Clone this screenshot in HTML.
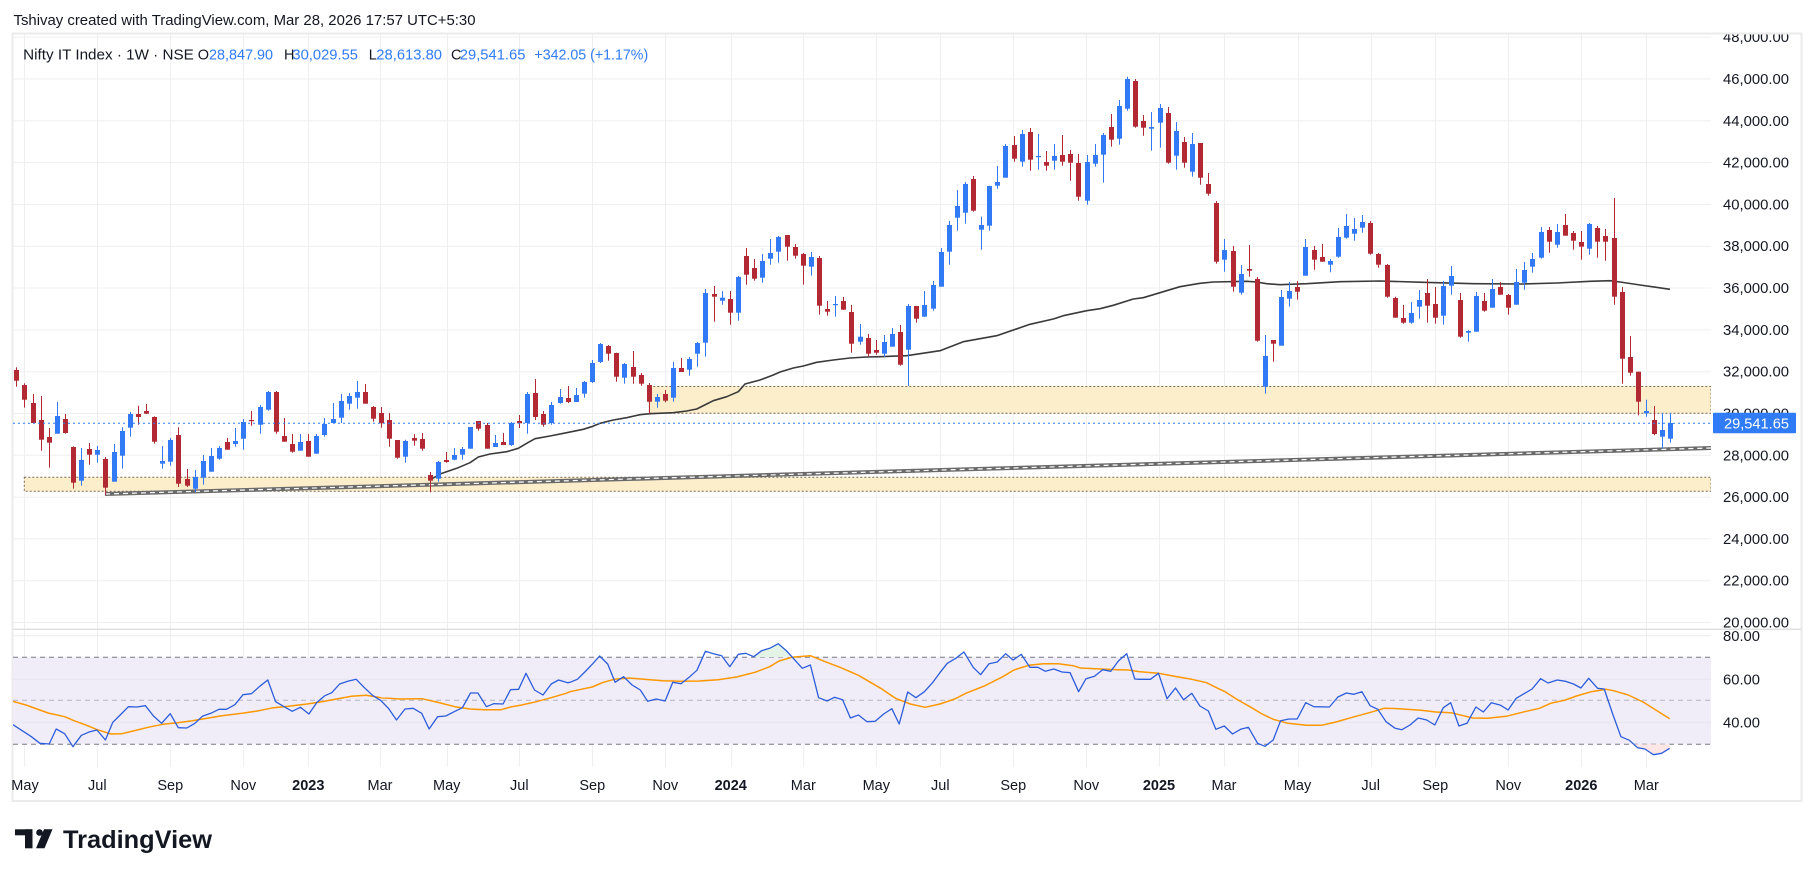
<!DOCTYPE html>
<html><head><meta charset="utf-8"><style>
html,body{margin:0;padding:0;background:#fff;}
svg{display:block;font-family:"Liberation Sans",sans-serif;}
</style></head><body>
<svg id="s" width="1815" height="877" viewBox="0 0 1815 877" xmlns="http://www.w3.org/2000/svg">
<rect width="1815" height="877" fill="#fff"/>
<text x="13.5" y="25" font-size="15" fill="#131722" textLength="462" lengthAdjust="spacingAndGlyphs">Tshivay created with TradingView.com, Mar 28, 2026 17:57 UTC+5:30</text>
<rect x="12.5" y="33.5" width="1789" height="767.5" fill="none" stroke="#ebebeb" stroke-width="2"/>
<defs>
<clipPath id="cp"><rect x="13" y="34.5" width="1698" height="594"/></clipPath>
<clipPath id="cr"><rect x="13" y="630" width="1698" height="137"/></clipPath>
<clipPath id="ax1"><rect x="1712" y="34.5" width="89" height="594"/></clipPath>
<clipPath id="ax2"><rect x="1712" y="630" width="89" height="137"/></clipPath>
</defs>
<g id="grid" stroke="#efefef" stroke-width="1"></g>
<g clip-path="url(#cp)">
<rect x="24.3" y="477.3" width="1686.7" height="14" fill="#fdeecb" stroke="#7a6a50" stroke-width="1" stroke-dasharray="2,2"/>
<rect x="649.3" y="386.5" width="1061.7" height="26.8" fill="#fdeecb" stroke="#7a6a50" stroke-width="1" stroke-dasharray="2,2"/>
<polyline id="ma" fill="none" stroke="#3a3a3a" stroke-width="1.6" stroke-linejoin="round"/>
<line x1="372" y1="486.5" x2="673" y2="477.6" stroke="#555" stroke-width="1.4" opacity="0.7"/>
<line x1="105" y1="494" x2="1711" y2="448" stroke="#6a6a6a" stroke-width="4"/>
<line x1="105" y1="494" x2="1711" y2="448" stroke="#fff" stroke-width="1.2" stroke-dasharray="5,4"/>
<g id="candles"></g>
<line x1="13" y1="423.3" x2="1711" y2="423.3" stroke="#2f7cf6" stroke-width="1" stroke-dasharray="2,3"/>
</g>
<g clip-path="url(#ax1)" font-size="14.5" fill="#131722">
<text x="1723" y="42.2" textLength="66" lengthAdjust="spacingAndGlyphs">48,000.00</text>
<text x="1723" y="84" textLength="66" lengthAdjust="spacingAndGlyphs">46,000.00</text>
<text x="1723" y="125.8" textLength="66" lengthAdjust="spacingAndGlyphs">44,000.00</text>
<text x="1723" y="167.6" textLength="66" lengthAdjust="spacingAndGlyphs">42,000.00</text>
<text x="1723" y="209.4" textLength="66" lengthAdjust="spacingAndGlyphs">40,000.00</text>
<text x="1723" y="251.2" textLength="66" lengthAdjust="spacingAndGlyphs">38,000.00</text>
<text x="1723" y="293" textLength="66" lengthAdjust="spacingAndGlyphs">36,000.00</text>
<text x="1723" y="334.9" textLength="66" lengthAdjust="spacingAndGlyphs">34,000.00</text>
<text x="1723" y="376.7" textLength="66" lengthAdjust="spacingAndGlyphs">32,000.00</text>
<text x="1723" y="418.5" textLength="66" lengthAdjust="spacingAndGlyphs">30,000.00</text>
<text x="1723" y="460.3" textLength="66" lengthAdjust="spacingAndGlyphs">28,000.00</text>
<text x="1723" y="502.1" textLength="66" lengthAdjust="spacingAndGlyphs">26,000.00</text>
<text x="1723" y="543.9" textLength="66" lengthAdjust="spacingAndGlyphs">24,000.00</text>
<text x="1723" y="585.7" textLength="66" lengthAdjust="spacingAndGlyphs">22,000.00</text>
<text x="1723" y="627.5" textLength="66" lengthAdjust="spacingAndGlyphs">20,000.00</text>
<rect x="1713" y="412.7" width="83" height="20.6" rx="1" fill="#2f7cf6"/>
<text x="1724" y="428.6" fill="#fff" textLength="65" lengthAdjust="spacingAndGlyphs">29,541.65</text>
</g>
<line x1="13" y1="629.3" x2="1801" y2="629.3" stroke="#e0e0e0" stroke-width="1.5"/>
<g clip-path="url(#cr)">
<rect x="13" y="657.3" width="1698" height="87" fill="#f0edf9"/>
<line x1="13" y1="635.7" x2="1711" y2="635.7" stroke="#ececec"/>
<line x1="13" y1="679.3" x2="1711" y2="679.3" stroke="#e6e3ef"/>
<line x1="13" y1="722.3" x2="1711" y2="722.3" stroke="#e6e3ef"/>
<line x1="13" y1="657.3" x2="1711" y2="657.3" stroke="#787b86" stroke-dasharray="5,4"/>
<line x1="13" y1="700.3" x2="1711" y2="700.3" stroke="#b2b5be" stroke-dasharray="5,4"/>
<line x1="13" y1="744.3" x2="1711" y2="744.3" stroke="#787b86" stroke-dasharray="5,4"/>
<polygon id="gfill" fill="#e3f3e6"/>
<polygon id="rfill" fill="#fde6e6"/>
<polyline id="rsima" fill="none" stroke="#ff9800" stroke-width="1.5" stroke-linejoin="round"/>
<polyline id="rsi" fill="none" stroke="#2c5ddb" stroke-width="1.3" stroke-linejoin="round"/>
</g>
<g clip-path="url(#ax2)" font-size="14.5" fill="#131722">
<text x="1723" y="640.9" textLength="37" lengthAdjust="spacingAndGlyphs">80.00</text>
<text x="1723" y="684.3" textLength="37" lengthAdjust="spacingAndGlyphs">60.00</text>
<text x="1723" y="727.5" textLength="37" lengthAdjust="spacingAndGlyphs">40.00</text>
</g>
<g font-size="14.5" fill="#131722" text-anchor="middle">
<text x="25" y="790">May</text>
<text x="97.3" y="790">Jul</text>
<text x="170.3" y="790">Sep</text>
<text x="243.3" y="790">Nov</text>
<text x="308.3" y="790" font-weight="bold">2023</text>
<text x="380" y="790">Mar</text>
<text x="446.7" y="790">May</text>
<text x="519.3" y="790">Jul</text>
<text x="592.3" y="790">Sep</text>
<text x="665.3" y="790">Nov</text>
<text x="730.7" y="790" font-weight="bold">2024</text>
<text x="803.3" y="790">Mar</text>
<text x="876.3" y="790">May</text>
<text x="940.3" y="790">Jul</text>
<text x="1013.3" y="790">Sep</text>
<text x="1086.3" y="790">Nov</text>
<text x="1159" y="790" font-weight="bold">2025</text>
<text x="1224" y="790">Mar</text>
<text x="1297.5" y="790">May</text>
<text x="1370.7" y="790">Jul</text>
<text x="1435.3" y="790">Sep</text>
<text x="1508.3" y="790">Nov</text>
<text x="1581.3" y="790" font-weight="bold">2026</text>
<text x="1646.3" y="790">Mar</text>
</g>
<g font-size="14.5">
<text x="23.2" y="59.5" fill="#131722" textLength="170.6" lengthAdjust="spacingAndGlyphs">Nifty IT Index · 1W · NSE</text>
<text x="197.8" y="59.5" fill="#131722">O</text>
<text x="209" y="59.5" fill="#2f7cf6" textLength="64" lengthAdjust="spacingAndGlyphs">28,847.90</text>
<text x="284" y="59.5" fill="#131722">H</text>
<text x="292.4" y="59.5" fill="#2f7cf6" textLength="65.6" lengthAdjust="spacingAndGlyphs">30,029.55</text>
<text x="368.8" y="59.5" fill="#131722">L</text>
<text x="376.3" y="59.5" fill="#2f7cf6" textLength="65.7" lengthAdjust="spacingAndGlyphs">28,613.80</text>
<text x="451" y="59.5" fill="#131722">C</text>
<text x="459.8" y="59.5" fill="#2f7cf6" textLength="65.6" lengthAdjust="spacingAndGlyphs">29,541.65</text>
<text x="534.4" y="59.5" fill="#2f7cf6" textLength="113.8" lengthAdjust="spacingAndGlyphs">+342.05 (+1.17%)</text>
</g>
<g fill="#131722">
<rect x="15" y="829.3" width="17" height="6"/>
<rect x="25" y="829.3" width="7.5" height="19"/>
<circle cx="39.5" cy="832.5" r="3.3"/>
<polygon points="36,848.3 44.5,848.3 52.5,829.3 44,829.3"/>
<text x="63" y="848" font-size="25" font-weight="bold" textLength="149" lengthAdjust="spacingAndGlyphs">TradingView</text>
</g>
</svg>
<script>
(function(){
var NS='http://www.w3.org/2000/svg';
function el(t,a,p){var e=document.createElementNS(NS,t);for(var k in a)e.setAttribute(k,a[k]);p.appendChild(e);return e;}
// grid
var grid=document.getElementById('grid');
var hy=[37.2,79,120.8,162.6,204.4,246.2,288,329.9,371.7,413.5,455.3,497.1,538.9,580.7,622.5];
hy.forEach(function(y){el('line',{x1:13,x2:1711,y1:y,y2:y},grid);});
var vx=[24.3,97.3,170.3,243.3,308.3,380,446.7,519.3,592.3,665.3,730.7,803.3,876.3,940.3,1013.3,1086.3,1159,1224,1297.5,1370.7,1435.3,1508.3,1581.3,1646.3];
vx.forEach(function(x){var xx=Math.round(x)+0.5;el('line',{x1:xx,x2:xx,y1:34.5,y2:767},grid);});
// candles
var G=[
[340,"r82,90,122,140 r130,135,179,203 r162,189,249,250 r168,240,299,332 r264,291,308,383 b186,228,281,281 r222,237,279,281 r319,321,428,446 b324,360,422,437 r309,327,344,374 b318,330,344,368 r351,357,443,465 b312,336,425,425 b262,273,347,386 b216,222,263,290 r197,222,231,254 r192,213,221,222 r229,231,305,311 b318,363,371,386 b294,300,365,377 r262,285,431,441 r387,417,437,441 b390,411,446,457 b345,363,413,434 b324,348,395,395 b318,324,356,359 r294,306,329,329 b264,303,312,320 b237,246,296,329 r213,240,242,257 b195,201,254,281 b153,156,209,212 r153,156,275,281 r234,288,305,305 r282,312,335,338 b282,306,332,332 r282,303,350,350 b282,288,341,341 b234,252,285,290 b189,237,249,249 b162,183,233,249 b159,168,191,209 b123,156,173,206 r132,156,191,191 r198,201,236,245 r201,219,250,263 r219,240,296,320 r300,300,353,356 b299,303,350,368 r282,294,302,317 r279,297,326,332 r396,405,422,457 b363,366,416,425 r336,360,366,368"],
[200,"b744,765,779,781 b741,747,764,779 b681,681,746,746 r663,663,686,692 r669,675,746,746 b705,729,741,741 r699,726,735,735 b666,669,735,738 r645,663,670,684 b576,582,669,701 r537,579,651,660 r633,642,674,680 b606,615,669,674 b567,591,609,611 r558,594,606,609 b564,585,606,606 b543,546,581,593 b480,489,546,549 b429,432,486,489 r435,438,461,482 r458,459,530,545 b489,492,533,551 r453,501,530,551 r519,525,551,557 r549,555,605,641 b582,591,605,623 r570,582,602,607 b486,504,593,605 r474,504,516,516 b471,477,509,527 b426,429,461,500 b267,279,428,470 r258,282,290,365 b273,293,302,314 r273,297,338,374 b228,231,338,362 r144,168,224,254 r177,204,236,242 b162,183,233,248 b117,159,176,194 b108,111,155,188 r105,105,140,182 r132,141,167,176 r159,162,197,254 b156,171,200,227 r168,174,317,344 r303,327,335,347 b288,312,315,350 r291,303,329,330 r315,336,431,458 b372,410,425,434 r402,414,461,470 r420,450,458,464 b405,426,461,471"],
[70,"b774,792,830,830 r765,786,884,887 b702,708,839,948 r708,708,746,758 b663,705,740,740 b633,645,716,722 b534,546,650,650 b453,465,545,584 b360,408,443,482 b336,342,428,461 r318,327,422,425 b440,465,479,539 b347,348,467,482 b288,336,347,356 b222,228,323,323 r198,225,266,275 b180,192,275,290 r174,186,269,302 b192,258,261,299 r243,276,287,302 b222,258,272,299 r195,255,275,287 r240,252,278,332 r252,279,380,392 b255,276,392,404 b222,255,281,290 b189,195,254,338 r132,171,209,230 b90,108,206,224 b20,27,116,122 r27,33,170,173 r135,153,173,197 b126,171,176,242 b102,114,158,233 r111,129,278,281 b156,183,257,299 r201,216,278,293 b189,222,305,320 r219,219,323,344 r309,342,371,377 r393,399,575,581 b507,540,569,605 r528,543,650,665 b585,612,668,674 r525,597,602,620 r621,627,812,815 b795,858,950,971 r810,810,821,875 b660,681,827,827 b636,663,686,710 r633,651,665,689 b507,531,617,617 r528,540,569,599 r522,561,575,575 b567,573,584,607"],
[180,"b144,171,230,233 b102,138,173,176 b114,147,161,182 b105,126,143,158 r123,129,221,224 r219,222,254,263 r252,255,350,353 r350,354,413,413 r375,414,428,431 b366,399,428,431 b330,360,380,416 r297,339,377,428 r321,372,413,431 b303,318,407,434 b258,288,317,344 r339,360,470,473 b450,453,458,485 b336,348,455,455 r339,363,392,395 b297,327,383,383 r306,321,344,344 r342,345,383,404 b267,306,374,374 b246,270,308,329 b219,237,260,278 b141,156,233,236 r141,150,185,218 b132,156,194,203 r102,135,167,167 r153,159,182,209 r153,186,200,239 b129,132,206,224 r138,144,185,233 r147,168,185,242 r54,174,350,374 r321,336,536,611 r468,531,578,587 r575,575,665,706 b659,693,700,710 r678,720,762,766 b699,750,770,806 b699,729,776,788"]
];
var cg=document.getElementById('candles');
var idx=0;
G.forEach(function(g){
 var oy=g[0];
 g[1].trim().split(/\s+/).forEach(function(s){
  var col=s[0]==='r'?'#b22833':'#3179f5';
  var n=s.slice(1).split(',').map(function(v){return oy+Number(v)/3;});
  var x=16.3+idx*8.108; var px=Math.round(x);
  el('rect',{x:px,y:n[0].toFixed(1),width:1,height:Math.max(1,n[3]-n[0]).toFixed(1),fill:col},cg);
  el('rect',{x:px-2,y:n[1].toFixed(1),width:5,height:Math.max(1.2,n[2]-n[1]).toFixed(1),fill:col},cg);
  idx++;
 });
});
// MA
document.getElementById('ma').setAttribute('points',"430,480 440,474 456.7,468.3 470,462.7 478.3,457 490,454 506.7,451.7 518.3,448.3 526.7,443.3 535,438.7 550,436 566.7,432.7 583.3,429.3 591.7,426.7 600,423.3 613.3,420 626.7,417.7 640,414.7 650,413.7 673.3,412.7 686.7,411 696.7,409 706.7,404 713.3,400.7 726.7,396.7 738.3,391.7 745,384 760,380 773.3,375 780,372 793.3,368 803.3,366 816.7,362.3 833.3,360 850,358 866.7,357 880,356.7 906.7,355.7 940,350.7 963.3,341.7 996.7,335.7 1030,324.3 1053.3,319 1063.3,315.7 1086.7,310.7 1100,308.7 1113.3,305.3 1133.3,299 1143.3,297.7 1160,292.7 1180,286.7 1200,283.3 1213.3,282 1246.7,281.3 1256.7,282 1266.7,283.7 1280,284.7 1306.7,283.7 1340,281.7 1380,281 1423.3,282.3 1473.3,283.7 1523.3,284 1556.7,283 1590,281.3 1610,280.7 1620,282 1640,285 1670,289.3");
// RSI
var K=2.7034;
function P(ox,s){return s.trim().split(/\s+/).map(function(p){var a=p.split(',').map(Number);return (ox+a[0]/K).toFixed(1)+','+(630+a[1]/3).toFixed(1);}).join(' ');}
var b1="35,284 60,302 85,320 108,340 133,342 152,297 175,311 197,350 220,316 243,305 262,300 285,330 305,277 325,255 347,230 370,231 393,227 415,258 437,280 460,251 482,293 505,294 527,280 547,259 570,250 592,238 612,238 635,224 657,194 680,191 702,169 724,150 745,215 768,230 790,244 812,232 835,252 857,217 878,197 897,188 918,162 940,154 963,148 985,173 1007,196 1030,212 1050,235 1072,270 1095,237 1117,235 1140,250 1160,297 1183,260 1205,258 1228,245 1250,233 1272,189 1292,189 1315,230 1335,221 1360,222 1380,179 1402,178 1422,130 1445,180 1468,195 1490,162 1510,150 1535,158";
var b2="0,157 20,148 40,126 60,103 80,78 102,102 122,157 145,140 168,165 190,180 210,214 233,207 257,213 278,157 300,161 322,142 343,121 366,64 388,71 410,77 432,110 455,73 475,70 497,80 518,62 540,55 563,41 585,62 607,89 628,115 650,105 672,203 695,213 715,202 737,209 758,264 780,255 803,275 825,274 848,252 870,236 890,282 913,186 935,203 958,185 980,158 1000,128 1020,100 1043,85 1065,66 1090,112 1110,134 1133,101 1155,96 1178,71 1198,90 1220,73 1243,112 1265,112 1285,124 1308,117 1330,126 1352,128 1375,185 1395,146 1418,139 1440,119 1462,124 1483,92 1505,71 1527,147";
var b3="0,148 28,148 50,130 73,206 96,174 118,209 140,190 162,228 185,243 205,298 228,288 250,312 272,298 293,292 318,340 338,349 360,330 380,272 403,267 425,267 448,218 470,230 512,231 535,201 558,189 578,193 600,185 622,227 643,238 665,275 690,295 708,299 730,285 752,264 775,270 797,285 820,233 840,218 862,288 884,280 908,231 928,246 950,218 975,226 995,240 1017,205 1040,190 1060,177 1083,146 1103,159 1128,150 1150,154 1172,162 1192,174 1213,145 1237,175 1255,177 1278,252 1300,320 1323,331 1345,353 1365,357 1388,374 1410,370 1432,355";
document.getElementById('rsi').setAttribute('points',P(0,b1)+' '+P(570,b2)+' '+P(1140,b3));
var o1="35,214 70,225 100,237 130,249 175,260 200,272 230,284 260,298 300,312 330,311 360,303 400,292 440,283 480,278 520,272 560,265 600,257 660,249 700,242 740,233 780,229 830,222 870,215 910,207 950,199 990,196 1030,203 1080,207 1140,206 1180,216 1230,230 1270,237 1310,239 1355,239 1380,231 1410,225 1450,215 1490,203 1530,190";
var o2="0,185 30,178 60,171 90,157 120,148 160,144 200,148 250,152 300,154 350,153 400,149 450,141 500,127 540,110 565,93 600,82 650,77 690,95 730,112 780,136 840,175 880,205 920,222 960,232 1000,222 1040,207 1070,190 1120,168 1170,140 1200,120 1240,106 1280,101 1320,101 1360,107 1380,114 1420,116 1480,119 1510,120 1540,125";
var o3="0,125 50,130 100,140 140,148 180,158 210,175 230,185 265,210 300,232 330,252 360,268 400,280 450,286 490,286 530,276 580,260 620,248 660,235 700,236 760,241 800,246 840,248 870,256 900,264 940,265 990,259 1040,245 1080,235 1110,220 1150,210 1180,198 1220,185 1260,178 1280,182 1320,195 1360,216 1390,237 1432,266";
document.getElementById('rsima').setAttribute('points',P(0,o1)+' '+P(570,o2)+' '+P(1140,o3));
document.getElementById('gfill').setAttribute('points',P(570,"497,82 518,62 540,55 563,41 585,62 600,82"));
document.getElementById('rfill').setAttribute('points',P(1140,"1330,343 1345,353 1365,357 1388,374 1410,370 1432,355 1432,343"));
})();
</script>
</body></html>
